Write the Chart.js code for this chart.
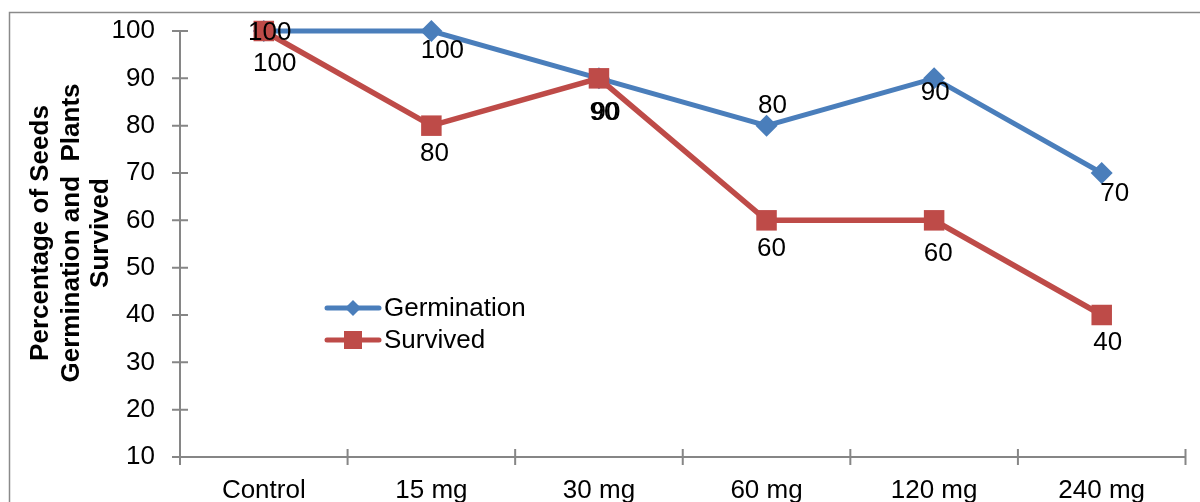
<!DOCTYPE html>
<html>
<head>
<meta charset="utf-8">
<script src="https://cdn.jsdelivr.net/npm/chart.js@4.4.0/dist/chart.umd.min.js"></script>
<style>
  html, body { margin: 0; padding: 0; background: #fff; }
  canvas { display: block; }
</style>
</head>
<body>
<canvas id="chart" width="1200" height="502"></canvas>
<script>
const categories = ['Control', '15 mg', '30 mg', '60 mg', '120 mg', '240 mg'];
const germination = [100, 100, 90, 80, 90, 70];
const survived = [100, 80, 90, 60, 60, 40];
const yTitle = ['Percentage of Seeds', 'Germination and  Plants', 'Survived'];
const seriesNames = ['Germination', 'Survived'];

const BLUE = '#4A7EBB', RED = '#BE4B48', AXIS = '#868686';
const FONT = '"Liberation Sans", Arial, sans-serif';

// nudges (px) for value labels, as placed in the original
const germOffsets = [[6, 2], [11, 20], [7, 34], [6, -20], [1, 14], [13, 21]];
const survOffsets = [[11, 33], [3, 28], [5, 34], [5, 28], [4, 33], [6, 28]];

// outer frame + axes with crossing tick marks
const frame = {
    id: 'frame',
    beforeDatasetsDraw(chart) {
        const { ctx, chartArea: a, scales: { x, y } } = chart;
        ctx.save();
        ctx.strokeStyle = '#8a8a8a';
        ctx.lineWidth = 1.5;
        ctx.strokeRect(9.5, 12.5, 1300, 600);

        ctx.strokeStyle = AXIS;
        ctx.lineWidth = 2;
        ctx.beginPath();
        ctx.moveTo(a.left, a.top);
        ctx.lineTo(a.left, a.bottom);
        ctx.lineTo(a.right, a.bottom);
        y.ticks.forEach(t => {
            const py = y.getPixelForValue(t.value);
            ctx.moveTo(a.left - 8, py);
            ctx.lineTo(a.left + 8, py);
        });
        for (let i = 0; i <= categories.length; i++) {
            const px = x.getPixelForValue(i - 0.5);
            ctx.moveTo(px, a.bottom - 8);
            ctx.lineTo(px, a.bottom + 8);
        }
        ctx.stroke();
        ctx.restore();
    }
};

function diamond(ctx, cx, cy, r) {
    ctx.beginPath();
    ctx.moveTo(cx, cy - r);
    ctx.lineTo(cx + r, cy);
    ctx.lineTo(cx, cy + r);
    ctx.lineTo(cx - r, cy);
    ctx.closePath();
    ctx.fill();
}

// value labels, rotated axis title, legend
const extras = {
    id: 'extras',
    afterDraw(chart) {
        const ctx = chart.ctx;
        ctx.save();
        ctx.fillStyle = '#000';
        ctx.font = '26px ' + FONT;
        ctx.textAlign = 'center';
        ctx.textBaseline = 'middle';
        [[0, germOffsets, germination], [1, survOffsets, survived]].forEach(([di, offs, vals]) => {
            chart.getDatasetMeta(di).data.forEach((pt, i) => {
                ctx.fillText(String(vals[i]), pt.x + offs[i][0], pt.y + offs[i][1]);
            });
        });

        // y title
        ctx.save();
        ctx.font = 'bold 26px ' + FONT;
        ctx.textBaseline = 'alphabetic';
        ctx.translate(0, 233);
        ctx.rotate(-Math.PI / 2);
        const baselines = [48, 79, 108];
        yTitle.forEach((line, i) => ctx.fillText(line, 0, baselines[i]));
        ctx.restore();

        // legend
        const items = [[BLUE, 308, 'rectRot'], [RED, 340, 'rect']];
        ctx.textAlign = 'left';
        ctx.font = '26px ' + FONT;
        items.forEach(([col, ly, shape], i) => {
            ctx.strokeStyle = col;
            ctx.fillStyle = col;
            ctx.lineWidth = 5;
            ctx.lineCap = 'round';
            ctx.beginPath();
            ctx.moveTo(327, ly);
            ctx.lineTo(379, ly);
            ctx.stroke();
            if (shape === 'rectRot') diamond(ctx, 353, ly, 8);
            else ctx.fillRect(344, ly - 9, 18, 18);
            ctx.fillStyle = '#000';
            ctx.fillText(seriesNames[i], 384, ly + 1);
        });
        ctx.restore();
    }
};

new Chart(document.getElementById('chart'), {
    type: 'line',
    data: {
        labels: categories,
        datasets: [
            {
                label: seriesNames[0], data: germination, order: 1, clip: false,
                borderColor: BLUE, backgroundColor: BLUE, borderWidth: 5,
                pointStyle: 'rectRot', pointRadius: 11, pointBorderWidth: 0, tension: 0
            },
            {
                label: seriesNames[1], data: survived, order: 0, clip: false,
                borderColor: RED, backgroundColor: RED, borderWidth: 5.5,
                pointStyle: 'rect', pointRadius: 14.5, pointBorderWidth: 0, tension: 0
            }
        ]
    },
    options: {
        responsive: false, animation: false,
        layout: { padding: { top: 31, right: 12, left: 0, bottom: 0 } },
        plugins: { legend: { display: false }, tooltip: { enabled: false } },
        scales: {
            x: {
                offset: true,
                grid: { display: false, drawTicks: false },
                border: { display: false },
                ticks: { color: '#000', font: { family: FONT, size: 26 }, padding: 18, maxRotation: 0 },
                afterFit: s => { s.height = 45; s.paddingLeft = 0; s.paddingRight = 0; }
            },
            y: {
                min: 10, max: 100,
                grid: { display: false, drawTicks: false },
                border: { display: false },
                ticks: { stepSize: 10, color: '#000', font: { family: FONT, size: 26 }, padding: 25 },
                afterFit: s => { s.width = 180; s.paddingTop = 0; s.paddingBottom = 0; }
            }
        }
    },
    plugins: [frame, extras]
});
</script>
</body>
</html>
